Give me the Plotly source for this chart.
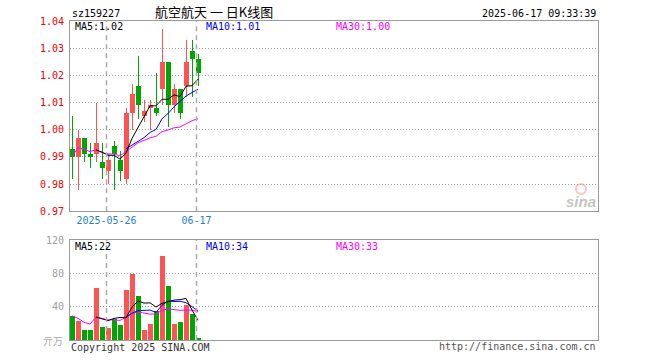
import plotly.graph_objects as go

# ---------------- data ----------------
dates = ["2025-05-16", "2025-05-19", "2025-05-20", "2025-05-21", "2025-05-22", "2025-05-23",
         "2025-05-26", "2025-05-27", "2025-05-28", "2025-05-29", "2025-05-30", "2025-06-03",
         "2025-06-04", "2025-06-05", "2025-06-06", "2025-06-09", "2025-06-10", "2025-06-11",
         "2025-06-12", "2025-06-13", "2025-06-16", "2025-06-17"]
opens = [0.993, 0.990, 0.997, 0.991, 0.991, 0.988, 0.985, 0.994, 0.989, 0.982, 1.006,
         1.016, 1.005, 1.008, 1.008, 1.015, 1.025, 1.009, 1.015, 1.016, 1.029, 1.026]
highs = [1.005, 1.000, 0.997, 0.995, 1.010, 0.995, 0.991, 0.996, 0.992, 1.008, 1.017,
         1.027, 1.011, 1.011, 1.021, 1.037, 1.025, 1.017, 1.015, 1.033, 1.033, 1.028]
lows = [0.982, 0.978, 0.988, 0.986, 0.988, 0.982, 0.980, 0.978, 0.981, 0.980, 1.000,
        1.004, 1.003, 1.000, 1.005, 1.009, 1.001, 1.006, 1.004, 1.012, 1.012, 1.016]
closes = [0.990, 0.997, 0.991, 0.990, 0.995, 0.986, 0.989, 0.991, 0.985, 1.006, 1.013,
          1.009, 1.007, 1.009, 1.006, 1.025, 1.009, 1.015, 1.006, 1.025, 1.026, 1.021]
ma5 = [None, None, None, None, 0.9926, 0.9918, 0.9906, 0.9906, 0.9892, 0.9914, 0.9968,
       1.0008, 1.0045, 1.0088, 1.0088, 1.0112, 1.0112, 1.0128, 1.0122, 1.0160, 1.0162, 1.0186]
ma10 = [None] * 9 + [0.9930, 0.9943, 0.9955, 0.9971, 0.9990, 1.0001, 1.0040, 1.0060,
                     1.0084, 1.0105, 1.0124, 1.0137, 1.0149]
ma30 = [0.9900, 0.9935, 0.9927, 0.9920, 0.9926, 0.9915, 0.9911, 0.9911, 0.9904, 0.9920,
        0.9939, 0.9952, 0.9961, 0.9970, 0.9976, 0.9993, 0.9999, 1.0007, 1.0010, 1.0022,
        1.0033, 1.0041]
volumes = [29, 23, 12, 12, 62, 16, 14.5, 25, 18, 60, 79, 52.5, 12, 19.5, 35, 101, 64.5,
           19.5, 22, 42.5, 31.5, 2.8]
vma5 = [None, None, None, None, 27.6, 25.0, 23.3, 25.9, 27.1, 26.7, 39.3, 46.9, 44.3,
        44.6, 39.6, 44.0, 46.4, 47.9, 48.4, 49.9, 36.0, 23.7]
vma10 = [None] * 9 + [27.2, 32.2, 35.1, 35.1, 35.9, 33.2, 41.7, 46.7, 46.1, 46.5, 44.8,
                      40.0, 35.0]
vma30 = [29.0, 26.0, 21.3, 19.0, 27.6, 25.7, 24.1, 24.2, 23.5, 27.2, 31.9, 33.6, 31.9,
         31.0, 31.3, 35.7, 37.4, 36.4, 35.6, 36.0, 35.7, 34.2]
price_ticks = [0.97, 0.98, 0.99, 1.00, 1.01, 1.02, 1.03, 1.04]
price_tick_text = ["0.97", "0.98", "0.99", "1.00", "1.01", "1.02", "1.03", "1.04"]
vol_ticks = [40, 80, 120]
vol_tick_text = ["40", "80", "120"]
date_ticks = ["2025-05-26", "2025-06-17"]
date_tick_text = ["2025-05-26", "06-17"]
title_code = "sz159227"
title_name = "航空航天 一 日K线图"
timestamp = "2025-06-17 09:33:39"
ma_labels = ["MA5:1.02", "MA10:1.01", "MA30:1.00"]
vma_labels = ["MA5:22", "MA10:34", "MA30:33"]

# ---------------- styling ----------------
RED = "#ff5252"
GREEN = "#00a600"
MONO = "DejaVu Sans Mono"
W, H = 660, 360
L, R, T, B = 70, 62, 21, 20
PW, PH = W - L - R, H - T - B

def fx(px):
    return (px - L) / PW

def fy(py):
    return (H - B - py) / PH

n = len(dates)
xs = list(range(n))
colors = [RED if c >= o else GREEN for o, c in zip(opens, closes)]
body_base = [min(o, c) for o, c in zip(opens, closes)]
body_h = [max(abs(c - o), 0.0004) for o, c in zip(opens, closes)]
wick_h = [h - l for h, l in zip(highs, lows)]

fig = go.Figure()
fig.add_trace(go.Bar(x=xs, y=wick_h, base=lows, width=1 / 6, marker=dict(color=colors, line=dict(width=0)),
                     xaxis="x", yaxis="y"))
fig.add_trace(go.Bar(x=xs, y=body_h, base=body_base, width=5 / 6, marker=dict(color=colors, line=dict(width=0)),
                     xaxis="x", yaxis="y"))
for arr, col in [(ma30, "#ff00ff"), (ma10, "#0000ff"), (ma5, "#000000")]:
    fig.add_trace(go.Scatter(x=xs, y=arr, mode="lines", line=dict(color=col, width=1),
                             xaxis="x", yaxis="y"))
fig.add_trace(go.Bar(x=xs, y=volumes, width=5 / 6, marker=dict(color=colors, line=dict(width=0)),
                     xaxis="x2", yaxis="y2"))
for arr, col in [(vma30, "#ff00ff"), (vma10, "#0000ff"), (vma5, "#000000")]:
    fig.add_trace(go.Scatter(x=xs, y=arr, mode="lines", line=dict(color=col, width=1),
                             xaxis="x2", yaxis="y2"))

xr = [-2 / 6, (L + PW - 72) / 6]
date_pos = [dates.index(d) - 0.25 for d in date_ticks]

shapes = []
for xp in date_pos:
    for yr in ["y domain", "y2 domain"]:
        shapes.append(dict(type="line", xref="x", yref=yr, x0=xp, x1=xp, y0=0, y1=1,
                           line=dict(color="#aaaaaa", width=1.5, dash="5px,4px")))
# sina watermark eye
shapes.append(dict(type="circle", xref="paper", yref="paper", x0=fx(576), x1=fx(586), y0=fy(194), y1=fy(184),
                   line=dict(color="rgba(255,120,120,0.45)", width=2)))

def ann(text, px, py, color, size=10, xanchor="left", family=MONO):
    return dict(text=text, x=fx(px), y=fy(py), xref="paper", yref="paper", showarrow=False,
                xanchor=xanchor, yanchor="middle", font=dict(family=family, size=size, color=color))

annotations = [
    ann(title_code, 70, 13, "#000000", 10),
    ann(title_name, 214, 12, "#000000", 13, "center", "Noto Sans CJK SC"),
    ann(timestamp, 598, 13, "#000000", 10, "right"),
    ann(ma_labels[0], 73, 27, "#000000", 10),
    ann(ma_labels[1], 204, 27, "#0000ff", 10),
    ann(ma_labels[2], 334, 27, "#ff00ff", 10),
    ann(vma_labels[0], 73, 246, "#000000", 10),
    ann(vma_labels[1], 204, 246, "#0000ff", 10),
    ann(vma_labels[2], 334, 246, "#ff00ff", 10),
    ann("亓万", 65, 341, "#aaaaaa", 10, "right", "Noto Sans CJK SC"),
    ann("Copyright 2025 SINA.COM", 69, 347, "#333333", 10),
    ann("http://finance.sina.com.cn", 598, 346, "#555555", 10, "right"),
    ann("<b><i>sina</i></b>", 598, 201, "#c4c4c4", 15, "right", "Liberation Sans"),
]

axis_common = dict(showline=True, mirror=True, linecolor="#9a9a9a", linewidth=1, zeroline=False,
                   fixedrange=True)
fig.update_layout(
    width=W, height=H, margin=dict(l=L, r=R, t=T, b=B), paper_bgcolor="white", plot_bgcolor="white",
    showlegend=False, hovermode=False, barmode="overlay", bargap=0,
    xaxis=dict(domain=[0, 1], anchor="y", range=xr, tickvals=date_pos, ticktext=date_tick_text,
               ticks="", showgrid=False, tickfont=dict(family=MONO, size=10, color="#1f7fd4"),
               **axis_common),
    xaxis2=dict(domain=[0, 1], anchor="y2", range=xr, showticklabels=False, ticks="", showgrid=False,
                **axis_common),
    yaxis=dict(domain=[fy(211.3), 1], anchor="x", range=[0.97, 1.04], tickvals=price_ticks,
               ticktext=price_tick_text, ticks="", showgrid=True, gridcolor="#a0a0a0", gridwidth=1,
               griddash="1px,2px", tickfont=dict(family=MONO, size=10, color="#ee0000"),
               ticklabelstandoff=3, **axis_common),
    yaxis2=dict(domain=[0, fy(240)], anchor="x2", range=[0, 120], tickvals=vol_ticks,
                ticktext=vol_tick_text, ticks="", showgrid=True, gridcolor="#a0a0a0", gridwidth=1,
                griddash="1px,2px", tickfont=dict(family=MONO, size=10, color="#a0a0a0"),
                ticklabelstandoff=3, **axis_common),
    shapes=shapes, annotations=annotations,
)

fig.write_html("out.html", config={"displayModeBar": False, "staticPlot": True},
               post_script="document.body.style.margin='0';document.body.style.padding='0';")
